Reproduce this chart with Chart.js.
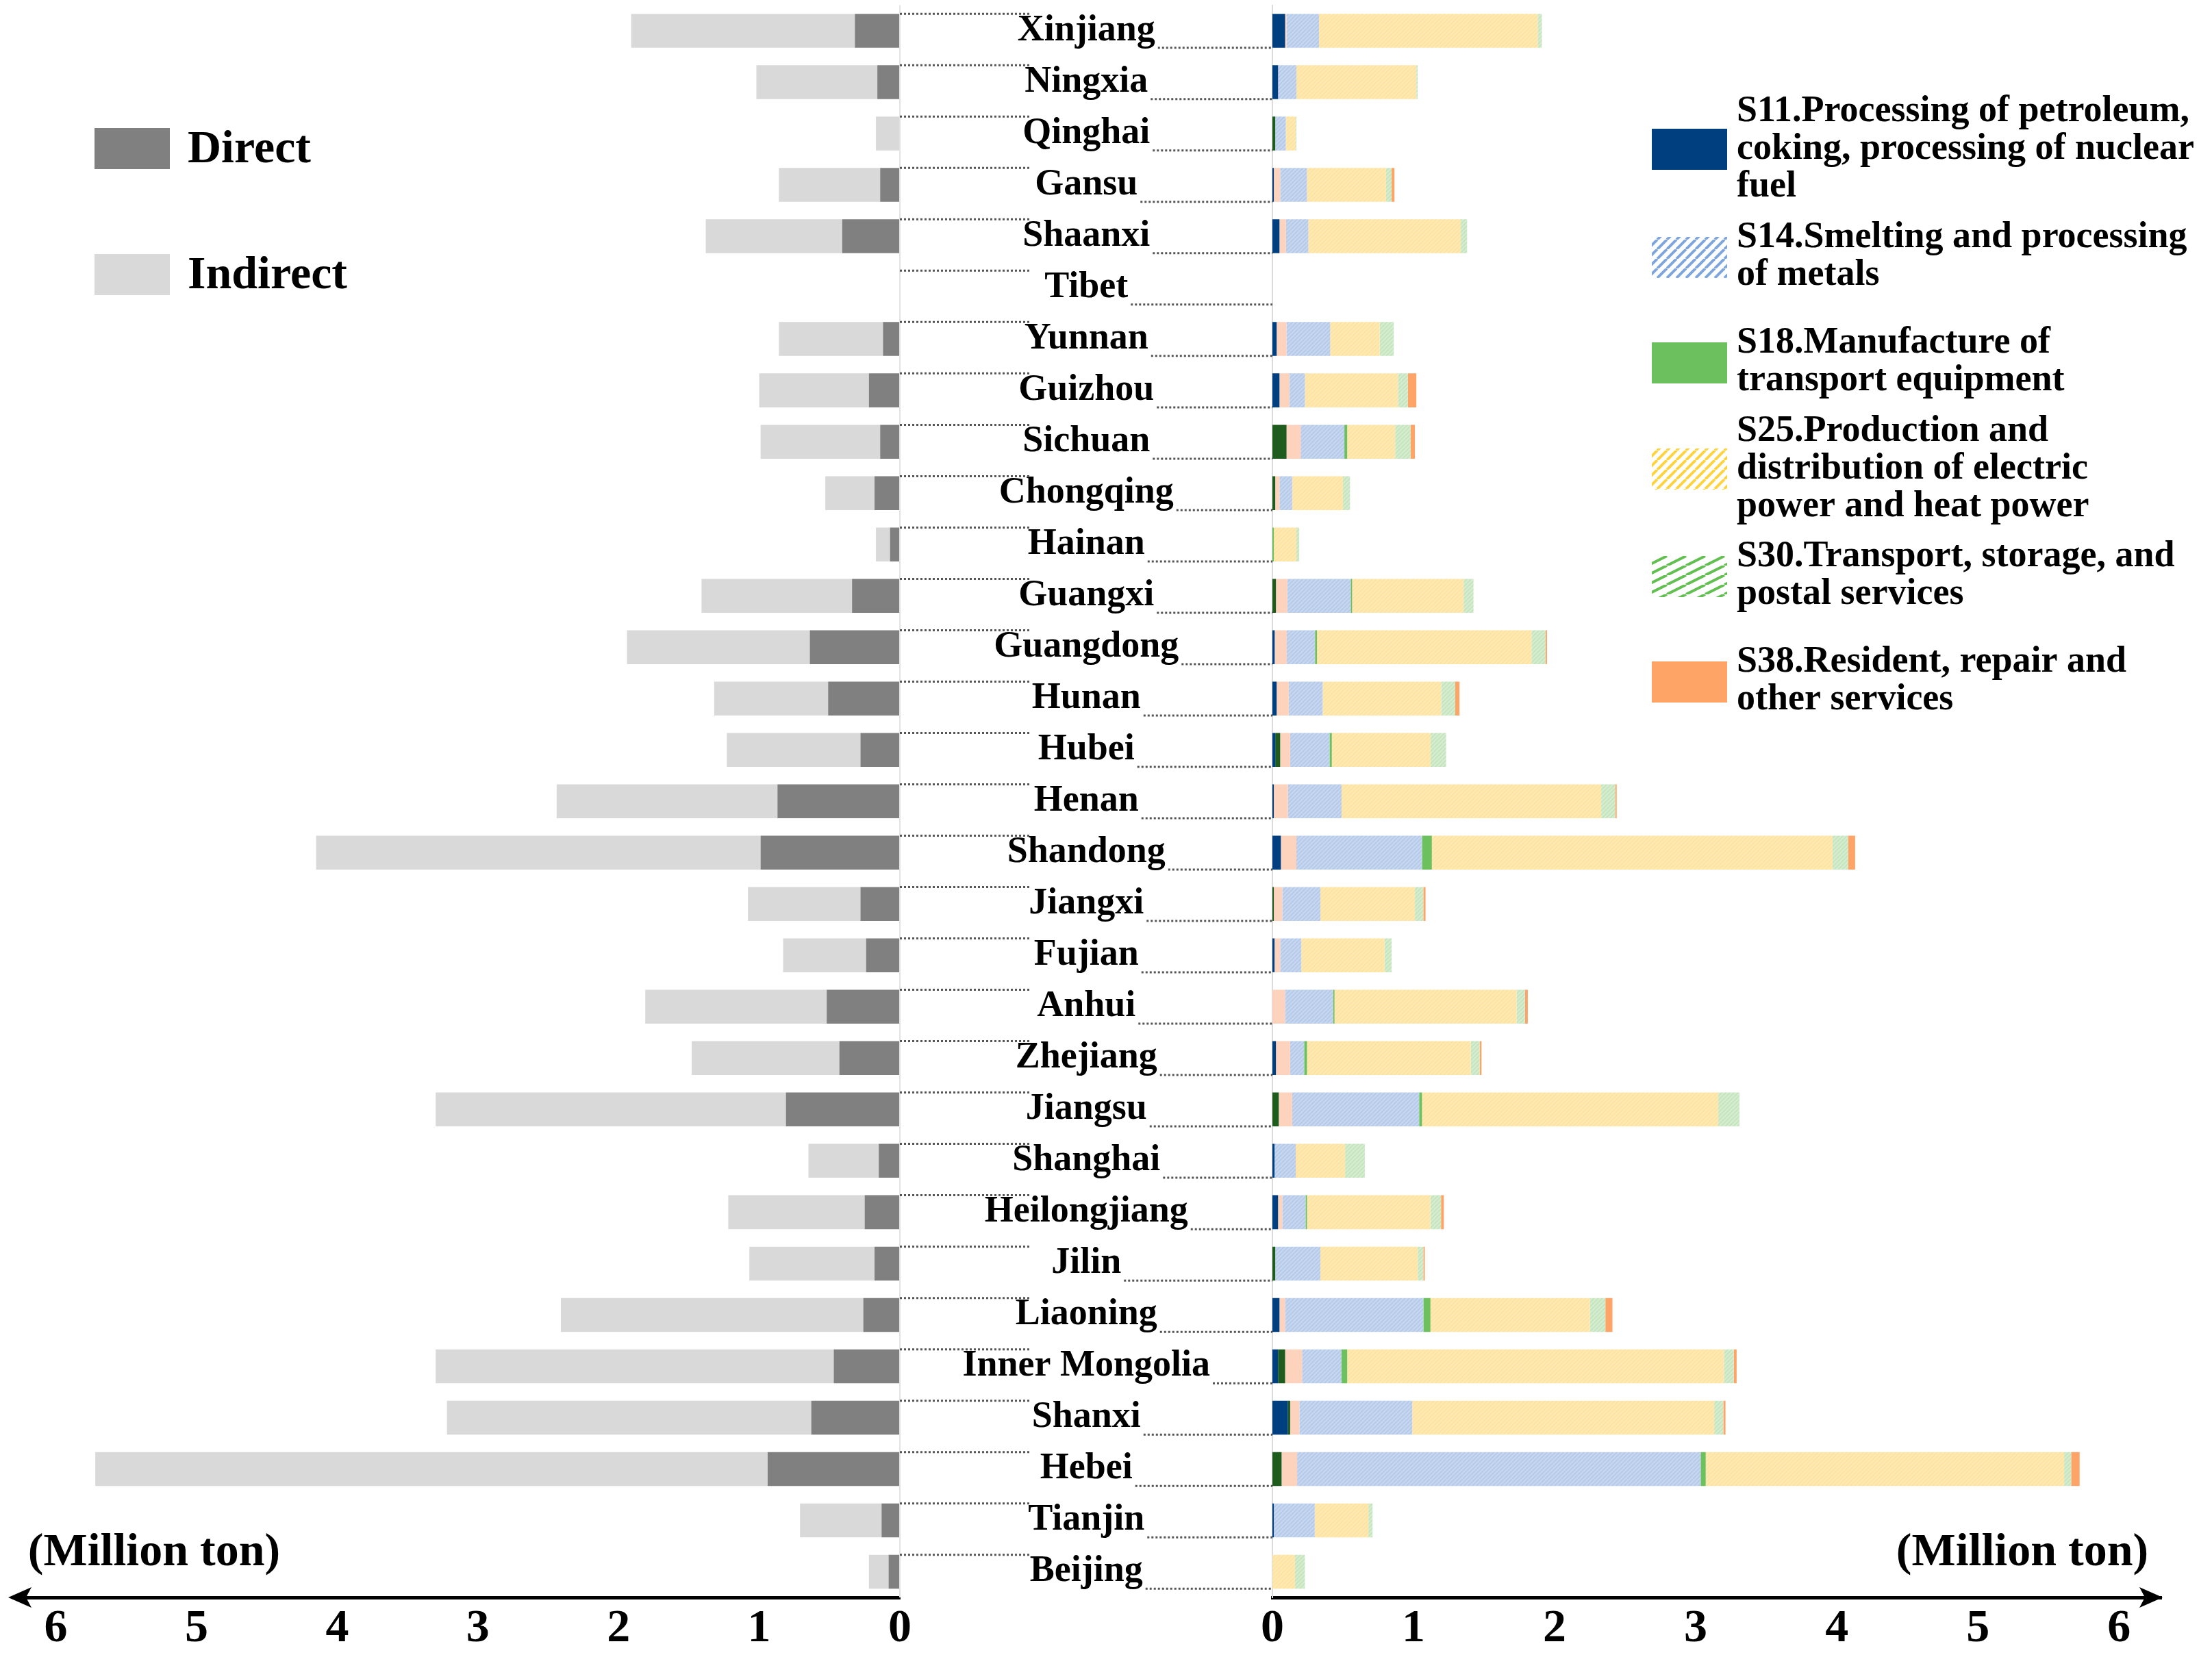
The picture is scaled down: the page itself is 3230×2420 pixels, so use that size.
<!DOCTYPE html>
<html>
<head>
<meta charset="utf-8">
<script src="https://cdn.jsdelivr.net/npm/chart.js@4.4.1/dist/chart.umd.min.js"></script>
<style>
  html, body { margin: 0; padding: 0; background: #fff; }
  #wrap { position: relative; width: 3230px; height: 2420px; overflow: hidden; }
  canvas { position: absolute; top: 0; }
  #left { left: 0; }
  #right { left: 1314px; }
</style>
</head>
<body>
<div id="wrap">
  <canvas id="left" width="1360" height="2420"></canvas>
  <canvas id="right" width="1916" height="2420"></canvas>
</div>
<script>
// provinces, top to bottom
const provinces = ['Xinjiang', 'Ningxia', 'Qinghai', 'Gansu', 'Shaanxi', 'Tibet', 'Yunnan', 'Guizhou',
  'Sichuan', 'Chongqing', 'Hainan', 'Guangxi', 'Guangdong', 'Hunan', 'Hubei', 'Henan', 'Shandong',
  'Jiangxi', 'Fujian', 'Anhui', 'Zhejiang', 'Jiangsu', 'Shanghai', 'Heilongjiang', 'Jilin', 'Liaoning',
  'Inner Mongolia', 'Shanxi', 'Hebei', 'Tianjin', 'Beijing'];

// left side (million ton)
const direct   = [0.32, 0.16, 0, 0.14, 0.41, 0, 0.12, 0.22, 0.14, 0.18, 0.07, 0.34, 0.64, 0.51, 0.28, 0.87,
  0.99, 0.28, 0.24, 0.52, 0.43, 0.81, 0.15, 0.25, 0.18, 0.26, 0.47, 0.63, 0.94, 0.13, 0.08];
const indirect = [1.59, 0.86, 0.17, 0.72, 0.97, 0, 0.74, 0.78, 0.85, 0.35, 0.10, 1.07, 1.30, 0.81, 0.95, 1.57,
  3.16, 0.80, 0.59, 1.29, 1.05, 2.49, 0.50, 0.97, 0.89, 2.15, 2.83, 2.59, 4.78, 0.58, 0.14];

// right side, by sector (million ton)
const s11   = [0.09, 0.04, 0, 0.01, 0.05, 0, 0.03, 0.05, 0, 0, 0, 0, 0.016, 0.03, 0.02, 0.01, 0.06, 0, 0.015, 0,
  0.025, 0, 0.015, 0.04, 0, 0.05, 0.04, 0.11, 0, 0.01, 0];
const other1 = [0, 0, 0.02, 0, 0, 0, 0, 0, 0.10, 0.02, 0, 0.025, 0, 0, 0.035, 0, 0, 0.01, 0, 0, 0, 0.045, 0, 0,
  0.02, 0, 0.05, 0.016, 0.065, 0, 0];
const other2 = [0.01, 0, 0, 0.045, 0.045, 0, 0.07, 0.07, 0.10, 0.03, 0, 0.08, 0.086, 0.086, 0.07, 0.10, 0.11,
  0.06, 0.04, 0.09, 0.10, 0.095, 0, 0.03, 0, 0.04, 0.12, 0.065, 0.11, 0, 0];
const s14   = [0.23, 0.13, 0.075, 0.19, 0.16, 0, 0.31, 0.11, 0.31, 0.09, 0, 0.45, 0.20, 0.24, 0.28, 0.38, 0.89,
  0.27, 0.15, 0.34, 0.10, 0.90, 0.15, 0.165, 0.32, 0.98, 0.28, 0.80, 2.86, 0.29, 0];
const s18   = [0, 0, 0, 0, 0, 0, 0, 0, 0.02, 0, 0.01, 0.01, 0.014, 0, 0.016, 0, 0.07, 0, 0, 0.01, 0.02, 0.02, 0,
  0.01, 0, 0.05, 0.04, 0, 0.036, 0, 0];
const s25   = [1.55, 0.85, 0.07, 0.56, 1.08, 0, 0.35, 0.66, 0.34, 0.36, 0.16, 0.79, 1.52, 0.84, 0.70, 1.84, 2.84,
  0.67, 0.59, 1.29, 1.16, 2.10, 0.35, 0.875, 0.69, 1.13, 2.67, 2.14, 2.54, 0.38, 0.16];
const s30   = [0.03, 0.01, 0.005, 0.04, 0.045, 0, 0.10, 0.07, 0.11, 0.05, 0.02, 0.07, 0.10, 0.10, 0.11, 0.10,
  0.11, 0.06, 0.05, 0.06, 0.065, 0.15, 0.14, 0.075, 0.04, 0.11, 0.07, 0.065, 0.05, 0.03, 0.07];
const s38   = [0, 0, 0, 0.02, 0, 0, 0, 0.06, 0.03, 0, 0, 0, 0.01, 0.03, 0, 0.01, 0.05, 0.015, 0, 0.02, 0.012,
  0, 0, 0.02, 0.01, 0.05, 0.02, 0.015, 0.06, 0, 0];

const xTicks = [0, 1, 2, 3, 4, 5, 6];

const FONT = '"Liberation Serif", "Times New Roman", serif';

// diagonal hatch as a canvas pattern
function hatch(bg, fg, size, lw, flat) {
  const c = document.createElement('canvas');
  c.width = size; c.height = flat ? size / 2 : size;
  const w = c.width, h = c.height;
  const x = c.getContext('2d');
  x.fillStyle = bg; x.fillRect(0, 0, w, h);
  x.strokeStyle = fg; x.lineWidth = lw;
  x.beginPath();
  x.moveTo(0, h); x.lineTo(w, 0);
  x.moveTo(-w, h); x.lineTo(0, 0);
  x.moveTo(w, h); x.lineTo(2 * w, 0);
  x.stroke();
  return x.createPattern(c, 'repeat');
}

const barS14 = hatch('#c6d6ef', '#b0c6e8', 6, 1.5);
const barS25 = hatch('#ffe9b3', '#fde09a', 6, 1.5);
const barS30 = hatch('#d5ecd0', '#bfe2b6', 6, 1.5);

const xScale = (reverse) => ({
  type: 'linear', min: 0, max: 6.3, reverse: reverse, stacked: true,
  grid: { display: false, drawTicks: false },
  border: { display: true, color: '#000', width: 5 },
  ticks: { color: '#000', padding: 6, font: { family: FONT, size: 68, weight: 'bold' } },
  afterBuildTicks: (s) => { s.ticks = xTicks.map(v => ({ value: v })); },
  afterFit: (s) => { s.height = 87; s.paddingLeft = 0; s.paddingRight = 0; }
});

function arrow(ctx, tipX, y, dir) {
  ctx.save();
  ctx.fillStyle = '#000';
  ctx.beginPath();
  ctx.moveTo(tipX, y);
  ctx.lineTo(tipX + dir * 34, y - 15);
  ctx.lineTo(tipX + dir * 26, y);
  ctx.lineTo(tipX + dir * 34, y + 15);
  ctx.closePath();
  ctx.fill();
  ctx.restore();
}

const leftDeco = {
  id: 'leftDeco',
  afterDraw(chart) {
    const ctx = chart.ctx, a = chart.chartArea;
    ctx.save();
    ctx.strokeStyle = '#e2e2e2'; ctx.lineWidth = 2;
    ctx.beginPath(); ctx.moveTo(a.right, a.top); ctx.lineTo(a.right, a.bottom); ctx.stroke();
    arrow(ctx, 12, chart.scales.x.top, 1);
    ctx.fillStyle = '#000';
    ctx.font = 'bold 68px ' + FONT;
    ctx.textBaseline = 'middle';
    ctx.textAlign = 'center';
    ctx.fillText('(Million ton)', 225, 2268);
    // legend
    ctx.textAlign = 'left';
    const items = [[chart.data.datasets[0], 187], [chart.data.datasets[1], 371]];
    items.forEach(([ds, y]) => {
      ctx.fillStyle = ds.backgroundColor;
      ctx.fillRect(138, y, 110, 60);
      ctx.fillStyle = '#000';
      ctx.fillText(ds.label, 274, y + 32);
    });
    ctx.restore();
  }
};

new Chart(document.getElementById('left'), {
  type: 'bar',
  data: {
    labels: provinces,
    datasets: [
      { label: 'Direct', data: direct, backgroundColor: '#808080' },
      { label: 'Indirect', data: indirect, backgroundColor: '#d9d9d9' }
    ]
  },
  options: {
    indexAxis: 'y', responsive: false, animation: false, devicePixelRatio: 1,
    layout: { padding: { left: 20, right: 46, top: 7.5, bottom: 0 } },
    datasets: { bar: { barPercentage: 0.66, categoryPercentage: 1, borderWidth: 0 } },
    plugins: { legend: { display: false }, tooltip: { enabled: false } },
    scales: { x: xScale(true), y: { stacked: true, display: false } }
  },
  plugins: [leftDeco]
});

const sectorLegend = [
  { lines: ['S11.Processing of petroleum,', 'coking, processing of nuclear', 'fuel'], y: 188, fill: '#003f7f' },
  { lines: ['S14.Smelting and processing', 'of metals'], y: 346, fill: hatch('#ffffff', '#7ea6dc', 14, 4) },
  { lines: ['S18.Manufacture of', 'transport equipment'], y: 500, fill: '#6cc15e' },
  { lines: ['S25.Production and', 'distribution of electric', 'power and heat power'], y: 655, fill: hatch('#ffffff', '#ffd33d', 14, 4) },
  { lines: ['S30.Transport, storage, and', 'postal services'], y: 812, fill: hatch('#ffffff', '#62c050', 28, 4, true) },
  { lines: ['S38.Resident, repair and', 'other services'], y: 966, fill: '#fda466' }
];

const rightDeco = {
  id: 'rightDeco',
  afterDraw(chart) {
    const ctx = chart.ctx, a = chart.chartArea, y = chart.scales.y;
    const band = (a.bottom - a.top) / provinces.length;
    const half = band * 0.66 / 2;
    ctx.save();
    ctx.font = 'bold 54px ' + FONT;
    let widest = 0;
    provinces.forEach(p => { widest = Math.max(widest, ctx.measureText(p).width); });
    const labelX = y.right - y.options.grid.tickLength - widest / 2;
    ctx.strokeStyle = '#555'; ctx.lineWidth = 3; ctx.setLineDash([3, 3]);
    provinces.forEach((p, i) => {
      const cy = y.getPixelForValue(i);
      const w = ctx.measureText(p).width;
      ctx.beginPath();
      ctx.moveTo(0, cy - half); ctx.lineTo(190, cy - half);
      ctx.moveTo(labelX + w / 2 + 4, cy + half); ctx.lineTo(a.left, cy + half);
      ctx.stroke();
    });
    ctx.setLineDash([]);
    arrow(ctx, a.right + 2, chart.scales.x.top, -1);
    ctx.fillStyle = '#000';
    ctx.font = 'bold 68px ' + FONT;
    ctx.textBaseline = 'middle';
    ctx.textAlign = 'center';
    ctx.fillText('(Million ton)', 1639, 2268);
    // sector legend
    ctx.font = 'bold 54px ' + FONT;
    ctx.textAlign = 'left';
    sectorLegend.forEach(it => {
      ctx.fillStyle = it.fill;
      ctx.fillRect(1098, it.y, 110, 60);
      ctx.fillStyle = '#000';
      const start = it.lines.length === 3 ? it.y + 30 - 55 : it.y + 1;
      it.lines.forEach((t, k) => ctx.fillText(t, 1222, start + k * 55));
    });
    ctx.restore();
  }
};

new Chart(document.getElementById('right'), {
  type: 'bar',
  data: {
    labels: provinces,
    datasets: [
      { label: 'S11', data: s11, backgroundColor: '#003f7f' },
      { label: 'other', data: other1, backgroundColor: '#1d5c1d' },
      { label: 'other', data: other2, backgroundColor: '#fdd3be' },
      { label: 'S14', data: s14, backgroundColor: barS14 },
      { label: 'S18', data: s18, backgroundColor: '#6cc15e' },
      { label: 'S25', data: s25, backgroundColor: barS25 },
      { label: 'S30', data: s30, backgroundColor: barS30 },
      { label: 'S38', data: s38, backgroundColor: '#fda466' }
    ]
  },
  options: {
    indexAxis: 'y', responsive: false, animation: false, devicePixelRatio: 1,
    layout: { padding: { left: 0, right: 74, top: 7.5, bottom: 0 } },
    datasets: { bar: { barPercentage: 0.66, categoryPercentage: 1, borderWidth: 0 } },
    plugins: { legend: { display: false }, tooltip: { enabled: false } },
    scales: {
      x: xScale(false),
      y: {
        stacked: true,
        grid: { display: false, drawTicks: true, tickLength: 91 },
        border: { display: true, color: '#dcdcdc', width: 2 },
        ticks: { color: '#000', padding: 0, crossAlign: 'center', font: { family: FONT, size: 54, weight: 'bold' } },
        afterFit: (s) => { s.width = 544; s.paddingTop = 0; s.paddingBottom = 0; }
      }
    }
  },
  plugins: [rightDeco]
});
</script>
</body>
</html>
